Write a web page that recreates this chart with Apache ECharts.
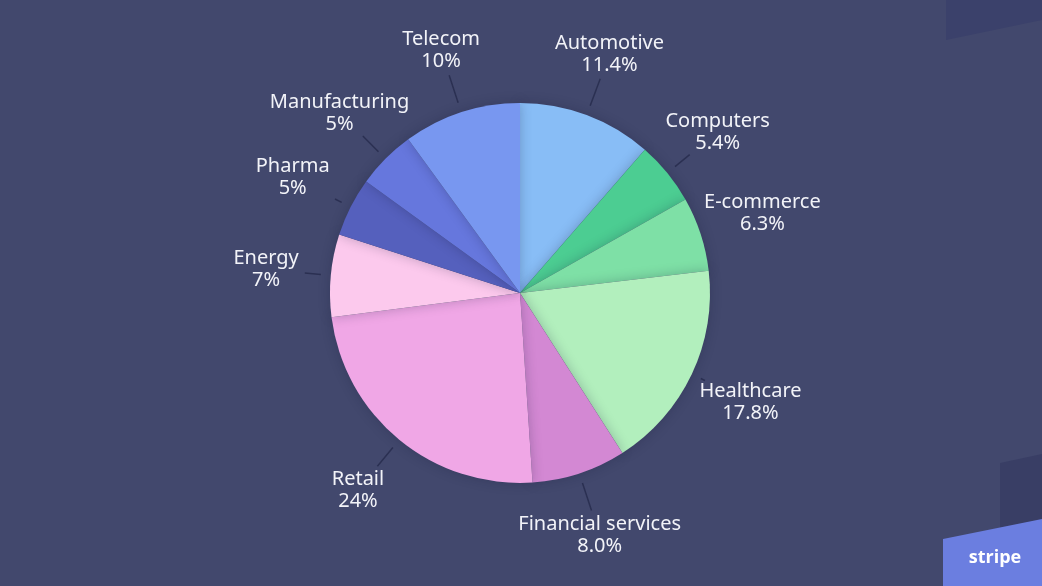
<!DOCTYPE html>
<html><head><meta charset="utf-8">
<script src="https://cdn.jsdelivr.net/npm/echarts@6/dist/echarts.min.js"></script>
<style>html,body{margin:0;padding:0;background:#42486d;}#chart{width:1042px;height:586px;}</style>
</head><body><div id="chart"></div>
<script>
const categories = ['Automotive','Computers','E-commerce','Healthcare','Financial services','Retail','Energy','Pharma','Manufacturing','Telecom'];
const shares = [11.4, 5.4, 6.3, 17.8, 8.0, 24, 7, 5, 5, 10];
const shareLabels = ['11.4%','5.4%','6.3%','17.8%','8.0%','24%','7%','5%','5%','10%'];
const sliceColors = ['#88bdf6','#4ccd92','#7ee0a6','#b2efbd','#d388d3','#f0a7e6','#fcc9ed','#5560bd','#6677dd','#7897f0'];

const FONT_FAMILY = 'Noto Sans';
const FONT_SIZE = 20;
const CX = 520, CY = 293, R = 190, LINE_R = 200, LABEL_R = 255;

// mid angle (clockwise from 12 o'clock) of each slice, derived from the data
const total = shares.reduce((a, b) => a + b, 0);
let cum = 0;
const midAngles = shares.map(v => { const m = (cum + v / 2) / total * 2 * Math.PI; cum += v; return m; });

// measure label boxes to find where each radial guide line should stop
const ctx = document.createElement('canvas').getContext('2d');
ctx.font = FONT_SIZE + 'px "' + FONT_FAMILY + '"';
const guideLengths = shares.map((v, i) => {
  const mid = midAngles[i];
  const dx = Math.abs(Math.sin(mid)), dy = Math.abs(Math.cos(mid));
  const hw = Math.max(ctx.measureText(categories[i]).width, ctx.measureText(shareLabels[i]).width) / 2;
  const hh = 19;
  const t = Math.min(dx > 1e-6 ? hw / dx : Infinity, dy > 1e-6 ? hh / dy : Infinity);
  return LABEL_R - t - 6 - LINE_R;
});

const chart = echarts.init(document.getElementById('chart'));
chart.setOption({
  backgroundColor: '#42486d',
  animation: false,
  graphic: [
    { type: 'polygon', shape: { points: [[946,0],[1042,0],[1042,20],[946,40]] }, style: { fill: '#3b416b' } },
    { type: 'polygon', shape: { points: [[1000,463],[1042,454],[1042,586],[1000,586]] }, style: { fill: '#393e65' } },
    { type: 'polygon', shape: { points: [[943,539],[1042,519],[1042,586],[943,586]] }, style: { fill: '#6b7ee0' } },
    { type: 'text', x: 995, y: 558, style: { text: 'stripe', fill: '#ffffff', font: 'bold 18px "Open Sans"', textAlign: 'center', textVerticalAlign: 'middle' } }
  ],
  series: [
    {
      type: 'pie', center: [CX, CY], radius: R, startAngle: 90, silent: true,
      label: { show: false }, labelLine: { show: false },
      itemStyle: { shadowBlur: 12, shadowColor: 'rgba(20,24,50,0.25)' },
      data: categories.map((n, i) => ({ name: n, value: shares[i], itemStyle: { color: sliceColors[i] } }))
    },
    {
      type: 'pie', center: [CX, CY], radius: LINE_R, startAngle: 90, silent: true, avoidLabelOverlap: false,
      itemStyle: { color: 'rgba(0,0,0,0)' },
      label: { show: true, color: 'rgba(0,0,0,0)', formatter: '{b}' },
      labelLine: { show: true, length2: 0, minTurnAngle: 0, lineStyle: { color: '#2b3052', width: 1.5 } },
      data: categories.map((n, i) => ({
        name: n, value: shares[i],
        labelLine: guideLengths[i] > 3 ? { show: true, length: guideLengths[i] } : { show: false }
      }))
    },
    {
      type: 'pie', center: [CX, CY], radius: LINE_R, startAngle: 90, silent: true, avoidLabelOverlap: false,
      itemStyle: { color: 'rgba(0,0,0,0)' },
      label: {
        show: true, position: 'outside', color: '#f2f3f8',
        fontFamily: FONT_FAMILY, fontSize: FONT_SIZE, lineHeight: 22,
        formatter: p => p.name + '\n' + shareLabels[p.dataIndex]
      },
      labelLine: { show: false },
      labelLayout: p => {
        const a = midAngles[p.dataIndex];
        return { x: CX + LABEL_R * Math.sin(a), y: CY - LABEL_R * Math.cos(a), align: 'center', verticalAlign: 'middle' };
      },
      data: categories.map((n, i) => ({ name: n, value: shares[i] }))
    }
  ]
});
</script></body></html>
